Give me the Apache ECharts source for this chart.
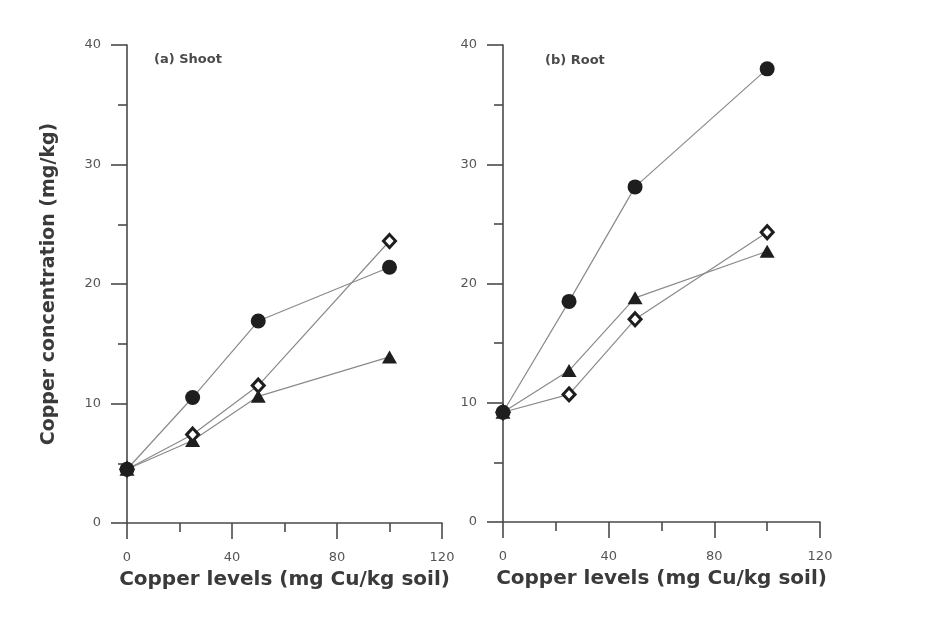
<!DOCTYPE html>
<html>
<head>
<meta charset="utf-8">
<script src="https://cdn.jsdelivr.net/npm/echarts@6/dist/echarts.min.js"></script>
<style>
html,body{margin:0;padding:0;background:#fff;}
#chart{width:936px;height:619px;}
</style>
</head>
<body>
<div id="chart"></div>
<script>
// Data
const copperLevels = [0, 25, 50, 100];
const shootCircle   = [4.5, 10.5, 16.9, 21.4];
const shootDiamond  = [4.5, 7.4, 11.5, 23.6];
const shootTriangle = [4.5, 6.9, 10.6, 13.9];
const rootCircle    = [9.2, 18.5, 28.1, 38.0];
const rootDiamond   = [9.2, 10.7, 17.0, 24.3];
const rootTriangle  = [9.2, 12.7, 18.8, 22.7];
const panelTitles = ['(a) Shoot', '(b) Root'];
const yName = 'Copper concentration (mg/kg)';
const xName = 'Copper levels (mg Cu/kg soil)';

const FONT = '"DejaVu Sans", "Liberation Sans", Arial, sans-serif';
const axisCol = '#4a4a4a';
const lineCol = '#8a8a8a';
const markCol = '#1e1e1e';

function pairs(ys){ return copperLevels.map((x,i)=>[x, ys[i]]); }

function xAxis(idx){
  return {
    type:'value', gridIndex: idx, min:0, max:120, interval:40,
    name: xName, nameLocation:'middle', nameGap:47,
    nameTextStyle:{fontFamily:FONT, fontWeight:'bold', fontSize:20, color:'#3a3a3a'},
    axisLine:{show:true, onZero:false, lineStyle:{color:axisCol, width:1.6}},
    axisTick:{show:true, inside:false, length:16, lineStyle:{color:axisCol, width:1.6}},
    minorTick:{show:true, splitNumber:2, length:9, lineStyle:{color:axisCol, width:1.6}},
    axisLabel:{fontFamily:FONT, fontSize:13, color:'#555', margin:28},
    splitLine:{show:false}, minorSplitLine:{show:false}
  };
}
function yAxis(idx, withName){
  return {
    type:'value', gridIndex: idx, min:0, max:40, interval:10,
    name: withName ? yName : '', nameLocation:'middle', nameGap:68,
    nameTextStyle:{fontFamily:FONT, fontWeight:'bold', fontSize:19, color:'#3a3a3a'},
    axisLine:{show:true, onZero:false, lineStyle:{color:axisCol, width:1.6}},
    axisTick:{show:true, inside:false, length:16, lineStyle:{color:axisCol, width:1.6}},
    minorTick:{show:true, splitNumber:2, length:9, lineStyle:{color:axisCol, width:1.6}},
    axisLabel:{fontFamily:FONT, fontSize:13, color:'#555', margin:26},
    splitLine:{show:false}, minorSplitLine:{show:false}
  };
}
function series(idx, ys, kind){
  const base = {
    type:'line', xAxisIndex:idx, yAxisIndex:idx, data:pairs(ys),
    lineStyle:{color:lineCol, width:1.2}, animation:false, z:3
  };
  if(kind==='circle'){
    base.symbol='circle'; base.symbolSize=15;
    base.itemStyle={color:markCol, borderColor:markCol, borderWidth:0};
    base.z=5;
  } else if(kind==='triangle'){
    base.symbol='triangle'; base.symbolSize=[15,13];
    base.itemStyle={color:markCol, borderColor:markCol, borderWidth:0};
  } else {
    base.symbol='diamond'; base.symbolSize=[12,13];
    base.itemStyle={color:'#ffffff', borderColor:markCol, borderWidth:3};
    base.z=4;
  }
  return base;
}

const chart = echarts.init(document.getElementById('chart'), null, {renderer:'canvas'});
chart.setOption({
  backgroundColor:'#ffffff',
  animation:false,
  title:[
    {text:panelTitles[0], left:149, top:48, textStyle:{fontFamily:FONT, fontWeight:'bold', fontSize:13, color:'#4a4a4a'}},
    {text:panelTitles[1], left:540, top:49, textStyle:{fontFamily:FONT, fontWeight:'bold', fontSize:13, color:'#4a4a4a'}}
  ],
  grid:[
    {left:127, right:494, top:45, bottom:96},
    {left:503, right:116, top:45, bottom:97}
  ],
  xAxis:[xAxis(0), xAxis(1)],
  yAxis:[yAxis(0,true), yAxis(1,false)],
  series:[
    series(0, shootTriangle, 'triangle'),
    series(0, shootDiamond, 'diamond'),
    series(0, shootCircle, 'circle'),
    series(1, rootTriangle, 'triangle'),
    series(1, rootDiamond, 'diamond'),
    series(1, rootCircle, 'circle')
  ]
});
</script>
</body>
</html>
